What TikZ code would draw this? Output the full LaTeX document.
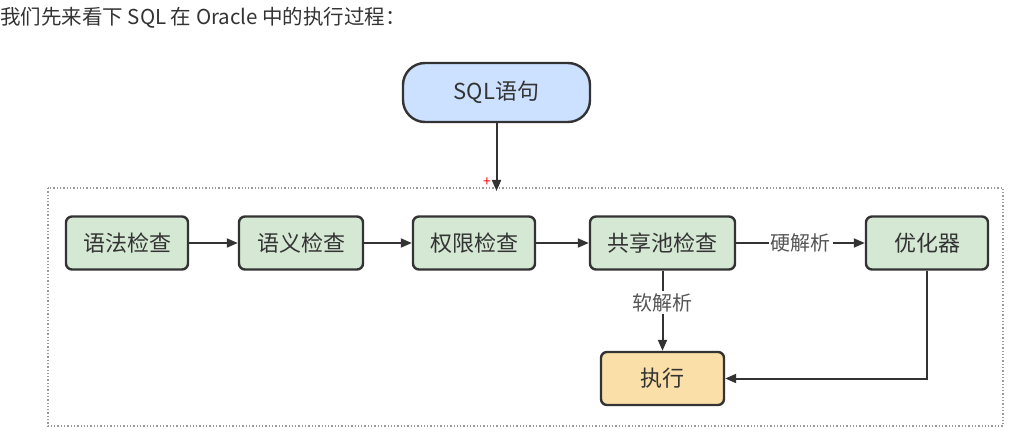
\documentclass[tikz,border=0pt]{standalone}
\usepackage{fontspec}
\setmainfont{Noto Sans CJK SC}
\usetikzlibrary{arrows.meta}
\definecolor{bordc}{HTML}{333333}
\definecolor{txtc}{HTML}{333333}
\definecolor{lblc}{HTML}{555555}
\definecolor{greenf}{HTML}{D5E8D4}
\definecolor{bluef}{HTML}{CCE0FF}
\definecolor{yellowf}{HTML}{FADFA8}
\definecolor{dotc}{HTML}{9A9A9A}
\tikzset{
  box/.style={draw=bordc, line width=2.4pt, rounded corners=6pt, text=txtc,
    font=\fontsize{22}{26}\selectfont, minimum height=53pt, inner sep=0pt},
  gbox/.style={box, fill=greenf},
  conn/.style={draw=bordc, line width=2pt, -{Triangle[length=11pt,width=9pt]}},
  lbl/.style={fill=white, text=lblc, font=\fontsize{20}{24}\selectfont, inner sep=2pt},
}
\begin{document}
\begin{tikzpicture}[x=1pt,y=-1pt]
\useasboundingbox (0,0) rectangle (1013,433);
\node[anchor=west, text=txtc, font=\fontsize{20.5}{24}\selectfont, inner sep=0pt] (title) at (0,18) {我们先来看下 SQL 在 Oracle 中的执行过程：};
\draw[dotc, line width=1.3pt, dotted] (48,188) rectangle (1003,426);
\node[box, fill=bluef, rounded corners=22pt, minimum width=187pt, minimum height=59pt] (sql) at (496.5,92.5) {SQL语句};
\node[gbox, minimum width=122pt] (n1) at (127,243) {语法检查};
\node[gbox, minimum width=124pt] (n2) at (301,243) {语义检查};
\node[gbox, minimum width=122pt] (n3) at (474,243) {权限检查};
\node[gbox, minimum width=145pt] (n4) at (662.5,243) {共享池检查};
\node[gbox, minimum width=122pt] (n5) at (927,243) {优化器};
\node[box, fill=yellowf, minimum width=123pt] (n6) at (662.5,378.5) {执行};
\coordinate (top) at (496.5,191);
\node[text=red, font=\fontsize{14}{14}\selectfont, inner sep=0pt] (plus) at (487,182) {+};
\draw[conn] (sql) -- (top);
\draw[conn] (n1) -- (n2);
\draw[conn] (n2) -- (n3);
\draw[conn] (n3) -- (n4);
\draw[conn] (n4) -- node[lbl] {硬解析} (n5);
\draw[conn] (n4) -- node[lbl, pos=0.4] {软解析} (n6);
\draw[conn] (n5.south) |- (n6.east);
\end{tikzpicture}
\end{document}
